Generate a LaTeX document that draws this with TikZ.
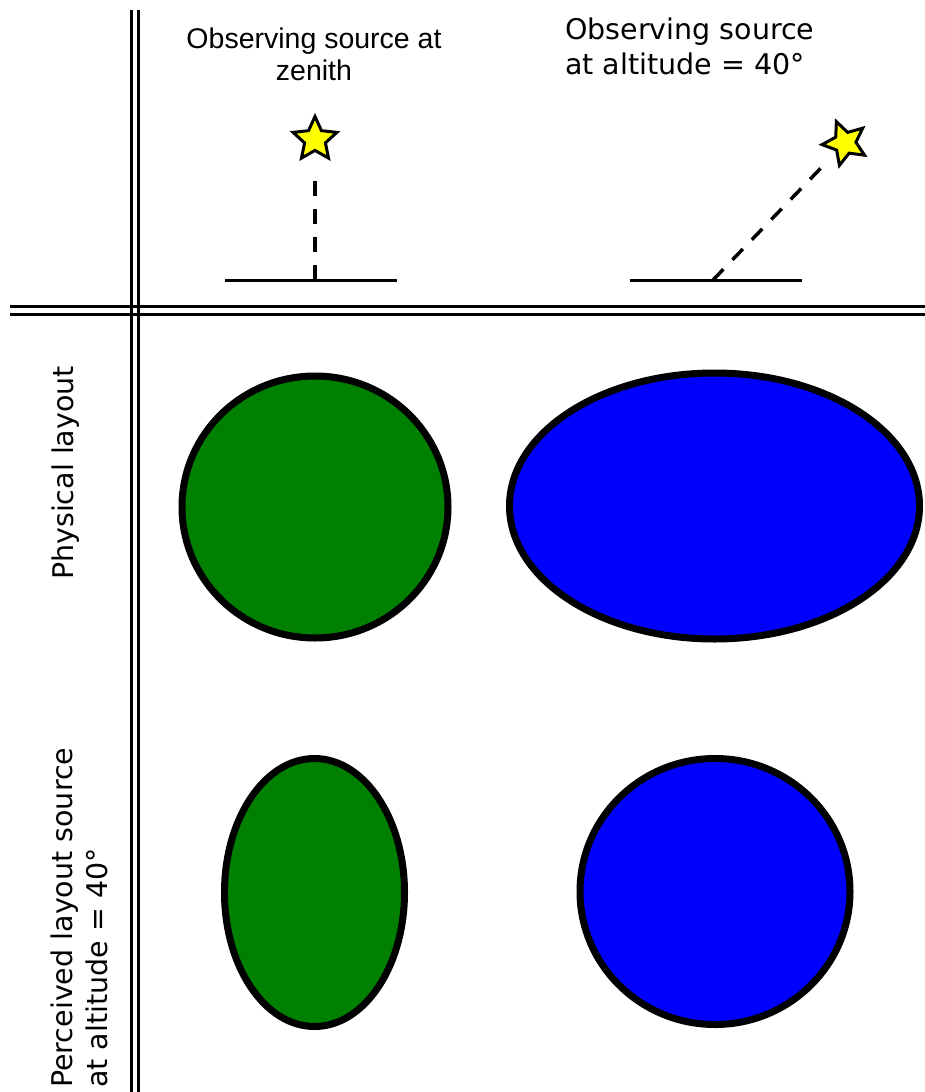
\documentclass[tikz,border=0pt]{standalone}
\usepackage{fontspec}
\newfontfamily\arialf{Liberation Sans}
\newfontfamily\dejavu{DejaVu Sans}
\usetikzlibrary{shapes.geometric}
\definecolor{sgreen}{HTML}{008000}
\definecolor{sblue}{HTML}{0000FF}
\definecolor{syellow}{HTML}{FFFF00}
\begin{document}
\begin{tikzpicture}[x=1pt,y=-1pt,
  sepline/.style={line width=3pt},
  ground/.style={line width=3pt},
  ray/.style={line width=3.5pt, dash pattern=on 15pt off 13pt},
  starnode/.style={star, star points=5, star point ratio=2.1, minimum size=46pt, inner sep=0pt, draw, fill=syellow, line width=3pt},
  blob/.style={ellipse, draw, line width=7pt, inner sep=0pt},
  arialtext/.style={font=\arialf\fontsize{28.5}{32}\selectfont, inner sep=0pt, align=center},
  dvtext/.style={font=\dejavu\fontsize{28.5}{35}\selectfont, inner sep=0pt, align=left}
]
\useasboundingbox (0,0) rectangle (925,1092);
% separators
\coordinate (v1a) at (131.5,10); \coordinate (v1b) at (131.5,1092);
\coordinate (v2a) at (138.5,10); \coordinate (v2b) at (138.5,1092);
\coordinate (h1a) at (10,306); \coordinate (h1b) at (925,306);
\coordinate (h2a) at (10,314); \coordinate (h2b) at (925,314);
\draw[sepline] (v1a) -- (v1b);
\draw[sepline] (v2a) -- (v2b);
\draw[sepline] (h1a) -- (h1b);
\draw[sepline] (h2a) -- (h2b);
% header texts
\node[arialtext, anchor=north] (t1) at (314,28) {Observing source at\\zenith};
\node[dvtext, anchor=north west] (t2) at (565,18) {Observing source\\at altitude = 40°};
% side labels
\node[dvtext, rotate=90, anchor=base] (s1) at (73,473) {Physical layout};
\node[dvtext, rotate=90, anchor=north west] (s2) at (51,1088) {Perceived layout source\\at altitude = 40°};
% left: zenith
\coordinate (gl1) at (225,280); \coordinate (gl2) at (397,280);
\coordinate (gl) at (315,280);
\node[starnode] (starL) at (315,139.5) {};
\draw[ground] (gl1) -- (gl2);
\draw[ray, shorten >=38pt] (gl) -- (starL.center);
% right: altitude 40
\coordinate (gr1) at (630,280); \coordinate (gr2) at (802,280);
\coordinate (gr) at (713,280);
\node[starnode, rotate=22] (starR) at (845,143) {};
\draw[ground] (gr1) -- (gr2);
\draw[ray, shorten >=31pt] (gr) -- (starR.center);
% ellipses
\node[blob, fill=sgreen, minimum width=266pt, minimum height=262pt] (g1) at (315,507) {};
\node[blob, fill=sblue, minimum width=410pt, minimum height=266pt] (b1) at (714.5,506) {};
\node[blob, fill=sgreen, minimum width=180pt, minimum height=268pt] (g2) at (314.5,892.5) {};
\node[blob, fill=sblue, minimum width=270pt, minimum height=266pt] (b2) at (715,891.5) {};
\end{tikzpicture}
\end{document}
